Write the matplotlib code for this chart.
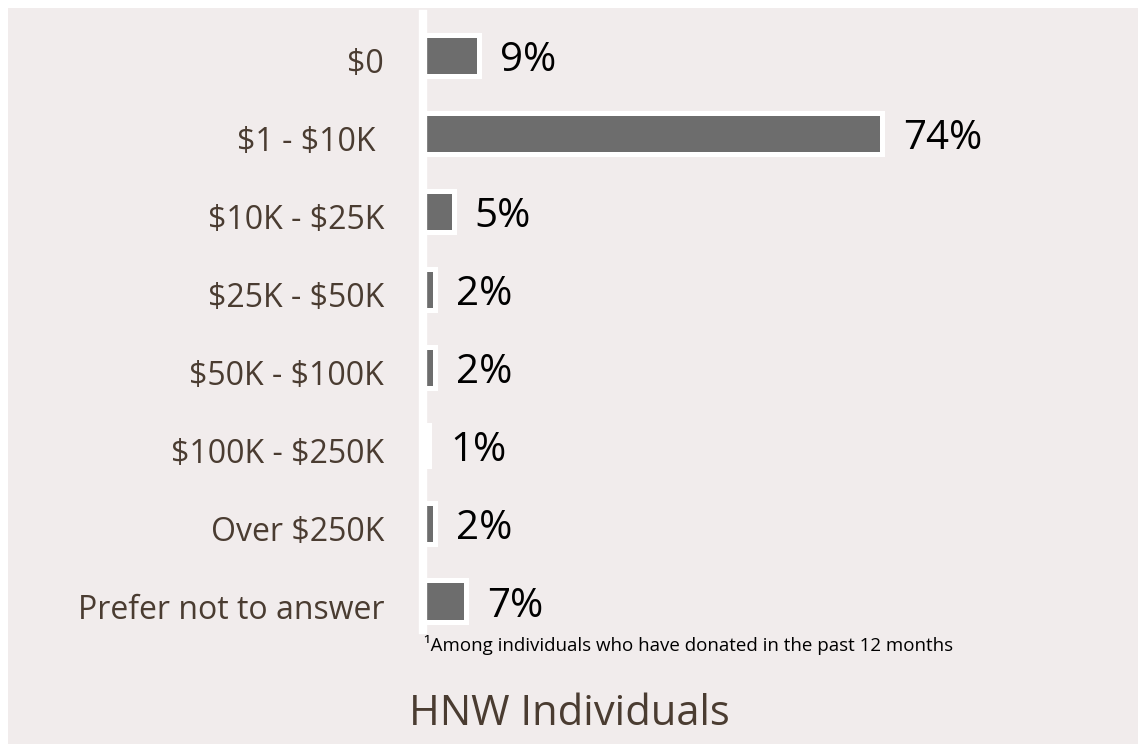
import matplotlib.pyplot as plt
import matplotlib.transforms as mtransforms
from matplotlib.patches import Rectangle

categories = ['$0', '$1 - $10K ', '$10K - $25K', '$25K - $50K', '$50K - $100K',
              '$100K - $250K', 'Over $250K', 'Prefer not to answer']
shares = [9, 74, 5, 2, 2, 1, 2, 7]
value_labels = ['9%', '74%', '5%', '2%', '2%', '1%', '2%', '7%']

W, H = 1138, 744
bg = '#F1ECEC'
text_brown = '#4A3C31'
plt.rcParams['font.family'] = ['Open Sans', 'DejaVu Sans']
plt.rcParams['text.parse_math'] = False  # keep the $ signs literal

fig = plt.figure(figsize=(W / 100, H / 100), dpi=100, facecolor='white')
# light panel behind everything, with a thin white margin top/left
fig.patches.append(Rectangle((8 / W, 0), 1, 1 - 8 / H, transform=fig.transFigure,
                             facecolor=bg, edgecolor='none', zorder=-10))

ax = fig.add_axes([423 / W, 1 - 630 / H, (1100 - 423) / W, (630 - 14) / H])
ax.set_facecolor('none')

ypos = list(range(len(categories)))
ax.barh(ypos, shares, height=0.53, color='#6D6D6D', edgecolor='white', linewidth=3.6)

for y, v, lab in zip(ypos, shares, value_labels):
    ax.annotate(lab, (v, y), xytext=(15, -4), textcoords='offset points',
                va='center', ha='left', fontsize=29, color='black')

ax.set_xlim(0, (1100 - 423) / 6.2)
ax.set_ylim(7.37, -0.53)
ax.set_yticks(ypos)
ax.set_yticklabels(categories, fontsize=23, color=text_brown)
ax.tick_params(axis='y', length=0, pad=28)
shift = mtransforms.ScaledTranslation(0, -5 / 100, fig.dpi_scale_trans)
for t in ax.get_yticklabels():
    t.set_transform(t.get_transform() + shift)
ax.set_xticks([])
for side in ['top', 'right', 'bottom']:
    ax.spines[side].set_visible(False)
ax.spines['left'].set_color('white')
ax.spines['left'].set_linewidth(6)

fig.text(424 / W, 1 - 645 / H, '\u00b9Among individuals who have donated in the past 12 months',
         fontsize=13.5, color='black', va='center', ha='left')
fig.text(569 / W, 1 - 714 / H, 'HNW Individuals', fontsize=30, color=text_brown,
         va='center', ha='center')

fig.savefig('out.png', dpi=100, facecolor='white')
